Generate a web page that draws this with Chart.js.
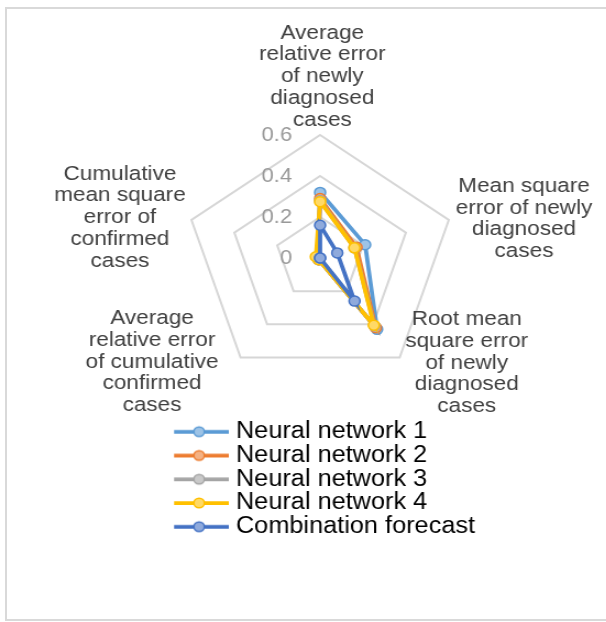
<!DOCTYPE html>
<html>
<head>
<meta charset="utf-8">
<script src="https://cdn.jsdelivr.net/npm/chart.js@4/dist/chart.umd.min.js"></script>
<style>
  html, body { margin: 0; padding: 0; background: #fff; width: 606px; height: 622px; overflow: hidden; }
  #frame { position: absolute; left: 5px; top: 7px; width: 660px; height: 614px; border: 2px solid #d9d9d9; box-sizing: border-box; }
  #stage { position: absolute; left: 0; top: 0; width: 551px; height: 622px; transform: scaleX(1.1); transform-origin: 0 0; }
</style>
</head>
<body>
<div id="frame"></div>
<div id="stage"><canvas id="chart" width="551" height="622"></canvas></div>
<script>
// Error indicators, clockwise from the top axis
const CATEGORIES = [
  ['Average', 'relative error', 'of newly', 'diagnosed', 'cases'],
  ['Mean square', 'error of newly', 'diagnosed', 'cases'],
  ['Root mean', 'square error', 'of newly', 'diagnosed', 'cases'],
  ['Average', 'relative error', 'of cumulative', 'confirmed', 'cases'],
  ['Cumulative', 'mean square', 'error of', 'confirmed', 'cases']
];

const SERIES_NAMES = ['Neural network 1', 'Neural network 2', 'Neural network 3', 'Neural network 4', 'Combination forecast'];

const NEURAL_NETWORK_1 = [0.32, 0.21, 0.43, 0.01, 0.01];
const NEURAL_NETWORK_2 = [0.29, 0.17, 0.42, 0.01, 0.01];
const NEURAL_NETWORK_3 = [0.28, 0.16, 0.41, 0.01, 0.01];
const NEURAL_NETWORK_4 = [0.275, 0.16, 0.405, 0.01, 0.02];
const COMBINATION_FORECAST = [0.16, 0.08, 0.26, 0, 0];

const TICK_VALUES = [0, 0.2, 0.4, 0.6];
const TICK_LABELS = ['0', '0.2', '0.4', '0.6'];

// styling
const FONT = "'Liberation Sans', Arial, sans-serif";
const LINE_COLORS = ['#5B9BD5', '#ED7D31', '#A5A5A5', '#FFC000', '#4472C4'];
const MARKER_FILLS = ['#9DC3E6', '#F4B183', '#C9C9C9', '#FFD966', '#8FAADC'];
const CENTER = { x: 291, y: 258 };
const RADIUS = 123;
const LABEL_GAP = 21.7;
// text block centre relative to the outer vertex of each axis
const LABEL_SHIFT = [[2, -58.5], [68.4, -1], [61, 5.5], [-80.5, 4.5], [-65, -2.5]];

function legendSwatch(color, fill) {
  const c = document.createElement('canvas');
  c.width = 54; c.height = 14;
  const g = c.getContext('2d');
  g.strokeStyle = color;
  g.lineWidth = 3.75;
  g.beginPath(); g.moveTo(0, 7); g.lineTo(54, 7); g.stroke();
  g.beginPath(); g.arc(27, 7, 4.75, 0, Math.PI * 2);
  g.fillStyle = fill; g.fill();
  g.lineWidth = 1.5; g.stroke();
  return c;
}
const SWATCHES = LINE_COLORS.map((c, i) => legendSwatch(c, MARKER_FILLS[i]));

const SERIES = [NEURAL_NETWORK_1, NEURAL_NETWORK_2, NEURAL_NETWORK_3, NEURAL_NETWORK_4, COMBINATION_FORECAST];

const datasets = SERIES.map((values, i) => ({
  label: SERIES_NAMES[i],
  data: values,
  borderColor: LINE_COLORS[i],
  backgroundColor: LINE_COLORS[i],
  borderWidth: 3.75,
  fill: false,
  tension: 0,
  pointRadius: 5,
  pointBorderWidth: 1.5,
  pointBackgroundColor: MARKER_FILLS[i],
  pointBorderColor: LINE_COLORS[i],
  order: SERIES.length - 1 - i,
  clip: false
}));

// axis names and scale values
const axisText = {
  id: 'axisText',
  beforeDatasetsDraw(chart) {
    const s = chart.scales.r;
    const ctx = chart.ctx;
    ctx.save();
    ctx.font = `20px ${FONT}`;
    ctx.fillStyle = '#999999';
    ctx.textAlign = 'right';
    ctx.textBaseline = 'middle';
    TICK_VALUES.forEach((v, i) => {
      ctx.fillText(TICK_LABELS[i], s.xCenter - 25.5, s.yCenter - s.getDistanceFromCenterForValue(v));
    });
    ctx.font = `20.5px ${FONT}`;
    ctx.fillStyle = '#404040';
    ctx.textAlign = 'center';
    CATEGORIES.forEach((lines, i) => {
      const p = s.getPointPosition(i, s.drawingArea);
      const cx = p.x + LABEL_SHIFT[i][0];
      const cy = p.y + LABEL_SHIFT[i][1];
      lines.forEach((t, k) => ctx.fillText(t, cx, cy + (k - (lines.length - 1) / 2) * LABEL_GAP));
    });
    ctx.restore();
  }
};

new Chart(document.getElementById('chart'), {
  type: 'radar',
  data: { labels: CATEGORIES, datasets },
  plugins: [axisText],
  options: {
    responsive: false,
    animation: false,
    devicePixelRatio: 1,
    layout: { padding: { left: 158.25, right: 100, top: 0, bottom: 73.8 } },
    scales: {
      r: {
        min: TICK_VALUES[0],
        max: TICK_VALUES[TICK_VALUES.length - 1],
        ticks: { display: false, stepSize: 0.2 },
        pointLabels: { display: false },
        angleLines: { display: false },
        grid: { color: '#d6d6d6', lineWidth: 2 },
        afterFit(scale) {
          scale.xCenter = CENTER.x;
          scale.yCenter = CENTER.y;
          scale.drawingArea = RADIUS;
        }
      }
    },
    plugins: {
      tooltip: { enabled: false },
      legend: {
        position: 'bottom',
        align: 'start',
        labels: {
          usePointStyle: true,
          pointStyleWidth: 44,
          padding: 0.75,
          color: '#404040',
          font: { family: FONT, size: 23 },
          generateLabels: (chart) => chart.data.datasets.map((ds, i) => ({
            text: ds.label,
            pointStyle: SWATCHES[i],
            fillStyle: ds.borderColor,
            strokeStyle: ds.borderColor,
            lineWidth: 0,
            hidden: false,
            datasetIndex: i
          }))
        }
      }
    }
  }
});
</script>
</body>
</html>
